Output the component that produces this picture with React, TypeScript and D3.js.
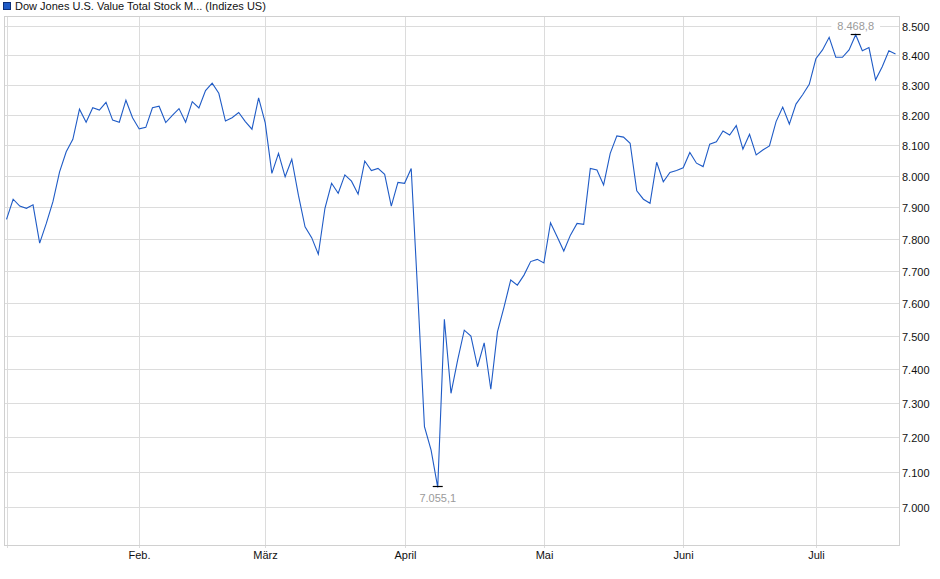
import { useEffect, useRef } from 'react';
import * as d3 from 'd3';

// daily closes, 2 Jan .. 18 Jul (trading days)
const closes = [
  7861, 7925, 7903, 7896, 7907, 7786, 7848, 7917, 8013, 8078,
  8119, 8218, 8175, 8223, 8215, 8241, 8182, 8175, 8248, 8190,
  8153, 8158, 8223, 8228, 8174, 8198, 8220, 8175, 8243, 8222,
  8280, 8305, 8271, 8179, 8190, 8207, 8177, 8152, 8256, 8173,
  8008, 8073, 7997, 8054, 7938, 7837, 7803, 7751, 7896, 7976,
  7944, 8003, 7983, 7941, 8048, 8017, 8024, 8005, 7903, 7979,
  7976, 8024, 7624, 7230, 7162, 7055.1, 7550, 7328, 7427, 7517,
  7499, 7407, 7479, 7340, 7512, 7588, 7671, 7655, 7686, 7728,
  7735, 7724, 7850, 7806, 7761, 7811, 7848, 7845, 8024, 8019,
  7971, 8073, 8130, 8126, 8106, 7952, 7925, 7912, 8044, 7981,
  8011, 8017, 8026, 8076, 8041, 8030, 8103, 8111, 8146, 8133,
  8164, 8087, 8135, 8068, 8084, 8097, 8177, 8225, 8169, 8235,
  8266, 8301, 8387, 8417, 8460, 8392, 8392, 8417, 8468.8, 8414,
  8425, 8316, 8360, 8414, 8403,
];

// index of the first trading day of each month
const monthStarts = [0, 20, 39, 60, 81, 102, 122];
const monthLabels = ['', 'Feb.', 'März', 'April', 'Mai', 'Juni', 'Juli'];

const yTicks = [7000, 7100, 7200, 7300, 7400, 7500, 7600, 7700, 7800, 7900, 8000, 8100, 8200, 8300, 8400, 8500];
const yDomain = [6893, 8533];

const seriesName = 'Dow Jones U.S. Value Total Stock M... (Indizes US)';

const W = 940;
const H = 579;
const LEFT = 4;
const RIGHT = 899;
const TOP = 16;
const BOTTOM = 545;
const FONT = 'Arial, "Liberation Sans", sans-serif';

const de = d3.formatLocale({ decimal: ',', thousands: '.', grouping: [3], currency: ['', ' €'] });

export default function App() {
  const svgRef = useRef<SVGSVGElement>(null);

  useEffect(() => {
    document.body.style.margin = '0';
    if (!svgRef.current) return;
    const svg = d3.select(svgRef.current);
    svg.selectAll('*').remove();

    const x = d3.scaleLinear().domain([0, closes.length - 1]).range([6.5, 895.5]);
    const y = d3.scaleLog().domain(yDomain).range([BOTTOM, TOP]);
    const fmtTick = de.format(',.0f');
    const fmtVal = de.format(',.1f');

    // legend
    svg.append('rect')
      .attr('x', 3.5).attr('y', 2.5).attr('width', 7).attr('height', 7)
      .attr('fill', '#1f5bc6').attr('stroke', '#0d2f78');
    svg.append('text')
      .attr('x', 15).attr('y', 10)
      .attr('font-family', FONT).attr('font-size', '11px').attr('fill', '#111')
      .text(seriesName);

    // horizontal grid + right axis
    yTicks.forEach(t => {
      const yy = Math.round(y(t)) + 0.5;
      svg.append('line')
        .attr('x1', LEFT).attr('x2', RIGHT).attr('y1', yy).attr('y2', yy)
        .attr('stroke', '#dcdcdc');
      svg.append('text')
        .attr('x', 902).attr('y', yy)
        .attr('dominant-baseline', 'central')
        .attr('font-family', FONT).attr('font-size', '11px').attr('fill', '#111')
        .text(fmtTick(t));
    });

    // vertical grid + month labels
    monthStarts.forEach((m, i) => {
      const xx = Math.round(x(m)) + 0.5;
      svg.append('line')
        .attr('x1', xx).attr('x2', xx).attr('y1', TOP).attr('y2', BOTTOM + 3)
        .attr('stroke', '#dcdcdc');
      if (monthLabels[i]) {
        svg.append('text')
          .attr('x', xx).attr('y', 559)
          .attr('text-anchor', 'middle')
          .attr('font-family', FONT).attr('font-size', '11px').attr('fill', '#111')
          .text(monthLabels[i]);
      }
    });

    // frame
    svg.append('rect')
      .attr('x', LEFT + 0.5).attr('y', TOP + 0.5)
      .attr('width', RIGHT - LEFT).attr('height', BOTTOM - TOP)
      .attr('fill', 'none').attr('stroke', '#d0d0d0');

    // price line
    const line = d3.line<number>()
      .x((_, i) => x(i))
      .y(d => y(d));
    svg.append('path')
      .datum(closes)
      .attr('d', line)
      .attr('fill', 'none')
      .attr('stroke', '#1f5bc6')
      .attr('stroke-width', 1.1)
      .attr('stroke-linejoin', 'miter');

    // high / low markers
    const hiIdx = d3.maxIndex(closes);
    const loIdx = d3.minIndex(closes);
    const marks = [
      { i: hiIdx, dy: -9 },
      { i: loIdx, dy: 11 },
    ];
    marks.forEach(({ i, dy }) => {
      const mx = x(i);
      const my = Math.round(y(closes[i])) - 0.5;
      const label = fmtVal(closes[i]);
      const g = svg.append('g');
      const t = g.append('text')
        .attr('x', mx).attr('y', my + dy)
        .attr('text-anchor', 'middle')
        .attr('dominant-baseline', 'central')
        .attr('font-family', FONT).attr('font-size', '11px').attr('fill', '#9a9a9a')
        .text(label);
      const bb = (t.node() as SVGTextElement).getBBox();
      g.insert('rect', 'text')
        .attr('x', bb.x - 6).attr('y', bb.y)
        .attr('width', bb.width + 12).attr('height', bb.height)
        .attr('fill', '#fff');
      svg.append('line')
        .attr('x1', mx - 5).attr('x2', mx + 5).attr('y1', my).attr('y2', my)
        .attr('stroke', '#000').attr('stroke-width', 1.2);
    });
  }, []);

  return (
    <svg ref={svgRef} width={W} height={H}
      style={{ position: 'absolute', left: 0, top: 0, background: '#fff' }} />
  );
}
